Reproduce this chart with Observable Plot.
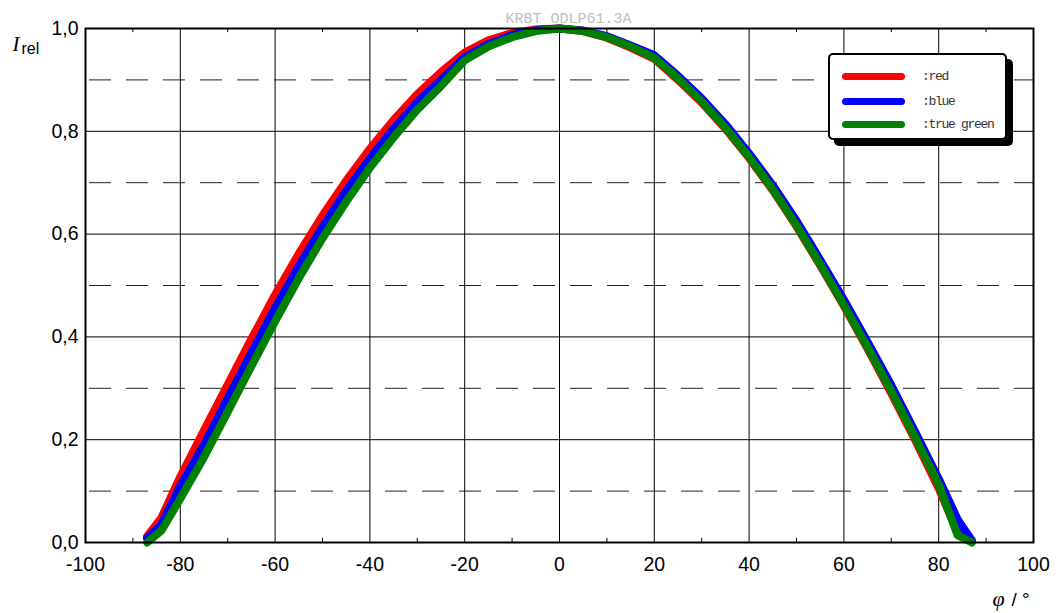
<!DOCTYPE html>
<html>
<head>
<meta charset="utf-8">
<script src="https://cdn.jsdelivr.net/npm/d3@7"></script>
<script src="https://cdn.jsdelivr.net/npm/@observablehq/plot@0.6"></script>
<style>
  html, body { margin: 0; padding: 0; background: white; }
  #wrap { position: relative; width: 1059px; height: 613px; overflow: hidden; }
  #legend { position: absolute; left: 828px; top: 53px; width: 175px; height: 83px;
    border: 2px solid black; border-radius: 5px; background: white; box-shadow: 6px 6px 0 black; }
  .item { position: absolute; left: 0; height: 20px; }
  .swatch { position: absolute; left: 12px; width: 63px; height: 7px; border-radius: 4px; top: 6px; }
  .lab { position: absolute; left: 92px; top: 0; font-family: "Liberation Mono", monospace; font-size: 13px;
    letter-spacing: -1.3px; color: #333; white-space: nowrap; line-height: 20px; }
</style>
</head>
<body>
<div id="wrap"></div>
<script>
const title = "KRBT ODLP61.3A";
const yLabel = "I";
const yLabelSub = "rel";
const xLabelSym = "φ";
const xLabelUnit = "/ °";

const angles = [-87,-84,-80,-75,-70,-65,-60,-55,-50,-45,-40,-35,-30,-25,-20,-15,-10,-5,0,
  5,10,15,20,25,30,35,40,45,50,55,60,65,70,75,80,84,87];
const red   = [0.012,0.048,0.128,0.218,0.307,0.396,0.482,0.562,0.636,0.704,0.766,0.822,0.872,0.915,0.953,0.977,0.991,0.998,1.0,
  0.995,0.982,0.963,0.941,0.9,0.856,0.805,0.748,0.685,0.615,0.539,0.46,0.377,0.29,0.2,0.105,0.02,0.003];
const blue  = [0.008,0.035,0.11,0.19,0.28,0.369,0.456,0.538,0.614,0.684,0.747,0.805,0.856,0.9,0.944,0.97,0.987,0.997,1.0,
  0.996,0.985,0.967,0.948,0.908,0.864,0.814,0.757,0.695,0.626,0.55,0.472,0.39,0.306,0.216,0.124,0.045,0.004];
const green = [0.0,0.023,0.085,0.166,0.254,0.343,0.43,0.514,0.592,0.663,0.729,0.788,0.842,0.888,0.938,0.965,0.983,0.995,1.0,
  0.995,0.983,0.965,0.943,0.903,0.858,0.807,0.75,0.687,0.617,0.541,0.462,0.38,0.295,0.205,0.113,0.014,0.0];

const seriesNames = [":red", ":blue", ":true green"];
const seriesColors = ["#ff0000", "#0000ff", "#008000"];

const xTicks = [-100,-80,-60,-40,-20,0,20,40,60,80,100];
const xGrid = [-80,-60,-40,-20,0,20,40,60,80];
const xMinor = [-90,-70,-50,-30,-10,10,30,50,70,90];
const yTicks = [0,0.2,0.4,0.6,0.8,1.0];
const yMajorGrid = [0.2,0.4,0.6,0.8];
const yMinorGrid = [0.1,0.3,0.5,0.7,0.9];

const allSeries = [red, blue, green];
const rows = allSeries.flatMap((vals, s) => angles.map((a, i) => ({a, v: vals[i], s: seriesNames[s]})));

const chart = Plot.plot({
  width: 1059, height: 613,
  marginLeft: 85, marginRight: 26, marginTop: 28, marginBottom: 71,
  x: {domain: [-100, 100]},
  y: {domain: [0, 1]},
  color: {domain: seriesNames, range: seriesColors},
  style: {background: "white", fontFamily: "'Liberation Sans', Arial, sans-serif", fontSize: "19.5px", color: "black"},
  marks: [
    Plot.ruleX(xGrid, {stroke: "black", strokeWidth: 1}),
    Plot.ruleY(yMajorGrid, {stroke: "black", strokeWidth: 1}),
    Plot.ruleY(yMinorGrid, {stroke: "#222", strokeWidth: 1, strokeDasharray: "22,15", strokeDashoffset: -4}),
    Plot.ruleX(xMinor, {y1: 0, y2: 0.008, stroke: "black", strokeWidth: 1}),
    Plot.ruleX(xMinor, {y1: 0.992, y2: 1, stroke: "black", strokeWidth: 1}),
    ...seriesNames.map(name => Plot.line(rows.filter(d => d.s === name), {
      x: "a", y: "v", stroke: "s", strokeWidth: 8, strokeLinejoin: "round", strokeLinecap: "round"
    })),
    Plot.frame({stroke: "black", strokeWidth: 2}),
    Plot.axisX({ticks: xTicks, tickSize: 0, tickPadding: 15, tickFormat: d => String(d), label: null,
      fontSize: 19.5, style: "letter-spacing:1.5px"}),
    Plot.axisY({ticks: yTicks, tickSize: 0, tickPadding: 7, tickFormat: d => d.toFixed(1).replace(".", ","), label: null,
      fontSize: 19.5}),
    Plot.text([title], {frameAnchor: "top", dx: 9, dy: -6, lineAnchor: "bottom", fill: "#c0c0c0",
      fontFamily: "'Liberation Mono', monospace", fontSize: 15}),
    Plot.text([yLabel], {frameAnchor: "top-left", dx: -73, dy: 22, lineAnchor: "bottom", textAnchor: "start",
      fontFamily: "'Liberation Serif', serif", fontStyle: "italic", fontSize: 21}),
    Plot.text([yLabelSub], {frameAnchor: "top-left", dx: -64, dy: 25, lineAnchor: "bottom", textAnchor: "start",
      fontSize: 16}),
    Plot.text([xLabelSym], {frameAnchor: "bottom-right", dx: -41, dy: 63, lineAnchor: "bottom", textAnchor: "start",
      fontFamily: "'Liberation Serif', serif", fontStyle: "italic", fontSize: 22}),
    Plot.text([xLabelUnit], {frameAnchor: "bottom-right", dx: -22, dy: 63, lineAnchor: "bottom", textAnchor: "start",
      fontSize: 19})
  ]
});

const wrap = document.getElementById("wrap");
wrap.appendChild(chart);
chart.style.position = "absolute";
chart.style.left = "0";
chart.style.top = "0";

const legend = document.createElement("div");
legend.id = "legend";
const ys = [12, 37, 60];
seriesNames.forEach((name, i) => {
  const item = document.createElement("div");
  item.className = "item";
  item.style.top = ys[i] + "px";
  item.style.width = "100%";
  const sw = document.createElement("div");
  sw.className = "swatch";
  sw.style.background = seriesColors[i];
  const lab = document.createElement("div");
  lab.className = "lab";
  lab.textContent = name;
  item.appendChild(sw);
  item.appendChild(lab);
  legend.appendChild(item);
});
wrap.appendChild(legend);
</script>
</body>
</html>
